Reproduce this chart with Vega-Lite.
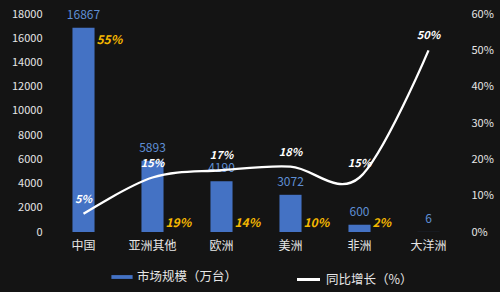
{
  "$schema": "https://vega.github.io/schema/vega-lite/v6.json",
  "width": 414,
  "height": 218,
  "autosize": {"type": "none"},
  "padding": {"left": 49, "top": 14, "right": 37, "bottom": 60},
  "background": "#141414",
  "config": {
    "font": "Noto Sans CJK SC",
    "view": {"stroke": null},
    "axis": {"grid": false, "domain": false, "ticks": false, "labelColor": "#e6e6e6", "labelFontSize": 11, "labelOverlap": false, "title": null},
    "legend": {"labelColor": "#e6e6e6", "labelFontSize": 12.5, "title": null}
  },
  "data": {
    "values": [
      {"region": "中国", "size": 16867, "share": "55%", "shareVal": 55, "growth": 0.05},
      {"region": "亚洲其他", "size": 5893, "share": "19%", "shareVal": 19, "growth": 0.15},
      {"region": "欧洲", "size": 4190, "share": "14%", "shareVal": 14, "growth": 0.17},
      {"region": "美洲", "size": 3072, "share": "10%", "shareVal": 10, "growth": 0.18},
      {"region": "非洲", "size": 600, "share": "2%", "shareVal": 2, "growth": 0.15},
      {"region": "大洋洲", "size": 6, "share": "", "shareVal": 0, "growth": 0.5}
    ]
  },
  "encoding": {
    "x": {
      "field": "region", "type": "nominal", "sort": null,
      "scale": {"paddingInner": 0.68, "paddingOuter": 0.34},
      "axis": {"labelAngle": 0, "labelFontSize": 12, "labelPadding": 8}
    }
  },
  "layer": [
    {
      "encoding": {
        "y": {"field": "size", "type": "quantitative", "scale": {"domain": [0, 18000]},
          "axis": {"values": [0, 2000, 4000, 6000, 8000, 10000, 12000, 14000, 16000, 18000], "labelPadding": 7, "format": "d"}}
      },
      "layer": [
        {
          "mark": {"type": "bar", "color": "#4472C4"},
          "encoding": {
            "color": {"datum": "市场规模（万台）", "scale": {"range": ["#4472C4"]},
              "legend": {"orient": "none", "legendX": 62, "legendY": 252, "symbolType": "M-1,-0.18H1V0.18H-1Z", "symbolSize": 450, "symbolStrokeWidth": 0}}
          }
        },
        {
          "mark": {"type": "text", "baseline": "bottom", "dy": -6, "fontSize": 12, "color": "#5F8FD4"},
          "encoding": {
            "text": {"field": "size", "type": "quantitative", "format": "d"}
          }
        },
        {
          "transform": [{"filter": "datum.shareVal > 50"}],
          "mark": {"type": "text", "align": "left", "baseline": "middle", "dx": 13, "dy": 12, "fontSize": 12, "fontStyle": "italic", "fontWeight": "bold", "color": "#F5B800"},
          "encoding": {
            "text": {"field": "share"}
          }
        },
        {
          "transform": [{"filter": "datum.shareVal > 0 && datum.shareVal < 50"}],
          "mark": {"type": "text", "align": "left", "baseline": "bottom", "dx": 13, "dy": -2, "fontSize": 12, "fontStyle": "italic", "fontWeight": "bold", "color": "#F5B800"},
          "encoding": {
            "y": {"datum": 0, "type": "quantitative", "scale": {"domain": [0, 18000]},
              "axis": {"values": [0, 2000, 4000, 6000, 8000, 10000, 12000, 14000, 16000, 18000], "labelPadding": 7, "format": "d"}},
            "text": {"field": "share"}
          }
        }
      ]
    },
    {
      "encoding": {
        "y": {"field": "growth", "type": "quantitative", "scale": {"domain": [0, 0.6]},
          "axis": {"orient": "right", "values": [0, 0.1, 0.2, 0.3, 0.4, 0.5, 0.6], "format": ".0%", "labelPadding": 8}}
      },
      "layer": [
        {
          "mark": {"type": "line", "interpolate": "cardinal", "strokeWidth": 2.3, "color": "#ffffff"},
          "encoding": {
            "stroke": {"datum": "同比增长（%）", "scale": {"range": ["#ffffff"]},
              "legend": {"orient": "none", "legendX": 246, "legendY": 252, "symbolType": "stroke", "symbolStrokeWidth": 3, "symbolSize": 530}}
          }
        },
        {
          "mark": {"type": "text", "baseline": "bottom", "dy": -9, "fontSize": 11, "fontStyle": "italic", "fontWeight": "bold", "color": "#ffffff"},
          "encoding": {
            "text": {"field": "growth", "type": "quantitative", "format": ".0%"}
          }
        }
      ]
    }
  ],
  "resolve": {"scale": {"y": "independent", "color": "independent"}}
}
